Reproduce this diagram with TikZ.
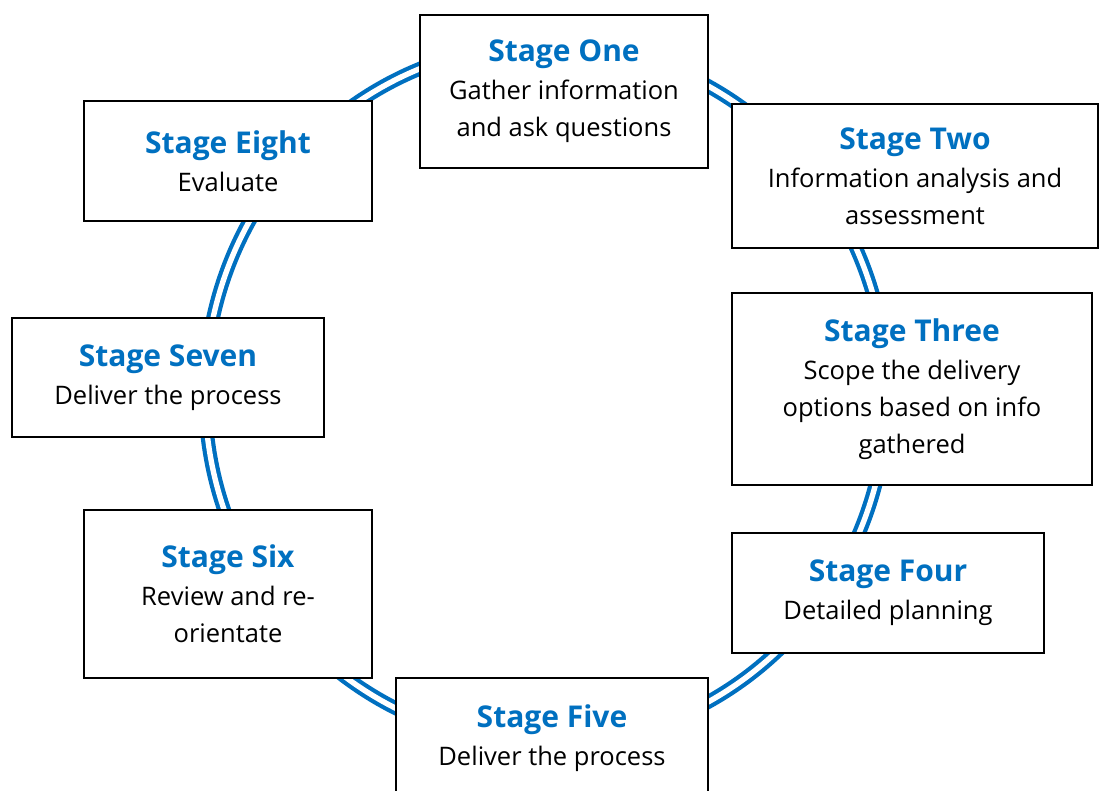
\documentclass[tikz,border=0pt]{standalone}
\usepackage{fontspec}
\setmainfont{Open Sans}
\usepackage{xcolor}
\definecolor{stageblue}{RGB}{0,112,192}
\newcommand{\stitle}[1]{{\fontsize{30}{37}\selectfont\bfseries\color{stageblue}#1}}
\tikzset{
  stage/.style={draw, line width=2pt, fill=white, align=center, inner sep=0pt,
    font=\fontsize{25.5}{37}\selectfont},
  ring/.style={draw=stageblue, line width=4.2pt, double=white, double distance=5.4pt}
}
\begin{document}
\begin{tikzpicture}[x=1pt,y=-1pt]
\useasboundingbox (0,0) rectangle (1102,791);

\draw[ring] (546,394) ellipse [x radius=341, y radius=350];

\node(1)[stage, minimum width=288, minimum height=153] at (564,91.5) {\stitle{Stage One}\\[1pt]Gather information\\and ask questions};
\node(2)[stage, minimum width=366, minimum height=144] at (915,176) {\stitle{Stage Two}\\[1pt]Information analysis and\\assessment};
\node(3)[stage, minimum width=360, minimum height=192] at (912,389) {\stitle{Stage Three}\\[1pt]Scope the delivery\\options based on info\\gathered};
\node(4)[stage, minimum width=312, minimum height=120] at (888,593) {\stitle{Stage Four}\\[1pt]Detailed planning};
\node(5)[stage, minimum width=312, minimum height=120] at (552,738) {\stitle{Stage Five}\\[1pt]Deliver the process};
\node(6)[stage, minimum width=288, minimum height=168] at (228,594) {\stitle{Stage Six}\\[1pt]Review and re-\\orientate};
\node(7)[stage, minimum width=312, minimum height=119] at (168,377.5) {\stitle{Stage Seven}\\[1pt]Deliver the process};
\node(8)[stage, minimum width=288, minimum height=120] at (228,161) {\stitle{Stage Eight}\\[1pt]Evaluate};
\end{tikzpicture}
\end{document}
